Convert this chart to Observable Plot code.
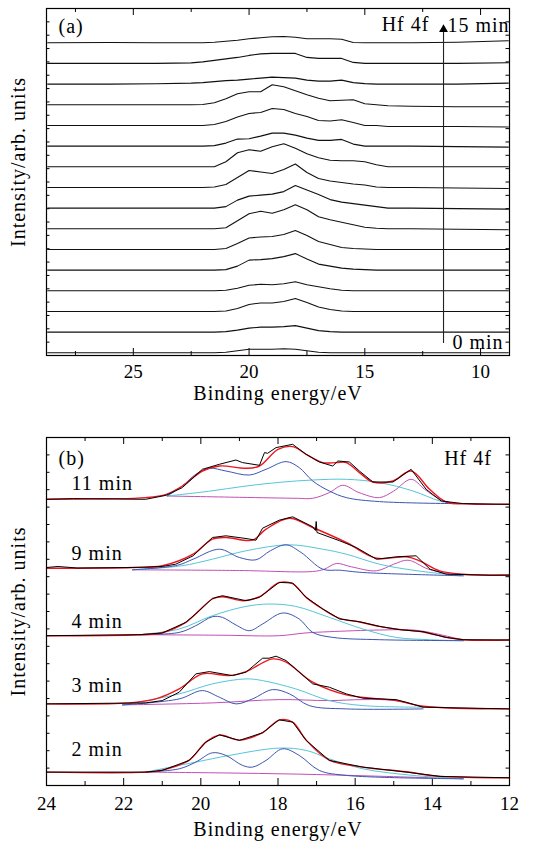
<!DOCTYPE html>
<html><head><meta charset="utf-8">
<script src="https://cdn.jsdelivr.net/npm/d3@7"></script>
<script src="https://cdn.jsdelivr.net/npm/@observablehq/plot@0.6"></script>
<style>
body{margin:0;background:#fff;}
#chart{width:533px;}
#chart svg{display:block;}
</style>
</head><body><div id="chart"></div>
<script>
// ---------- Panel (a): Hf 4f spectra, 0..15 min ----------
const energyA = [28.7, 26, 24, 22.5, 22, 21.5, 21, 20.5, 20, 19.5, 19, 18.5, 18, 17.5, 17, 16.5, 16, 15.5, 15, 14.5, 14, 13, 11, 8.8];
const minutesA = [0,1,2,3,4,5,6,7,8,9,10,11,12,13,14,15];
const spec00 = [0,0,0,0,0,0,0.5,2,3.5,3.5,3.5,4,3.5,2,0.5,0,0,0,0,0,0,0,0,0];
const spec01 = [0,0,0,0,0,0,0.5,2,4,5,5,5.5,6.5,4,1.5,0.5,0,0,0,0,0,0,0,0];
const spec02 = [0,0,0,0,0,0,0.5,3,7,8.5,8.5,10,13,9,4.5,2,0.5,0,0,0,0,0,0,0];
const spec03 = [0,0,0,0,0,0,0.5,2.5,5.5,6.5,6,7,9,6,4,2,0.5,0,0,0,0,0,0,0];
const spec04 = [0,0,0,0,0,0,0.5,4,10,10.5,11.5,13.5,16.5,11,6,4,2,1,0.5,0,0,0,0,0];
const spec05 = [0,0,0,0,0,0,1,6,11.5,12.5,13,15,19,14,8,5,2,1,0.5,0,0,0,0,0];
const spec06 = [0,0,0,0,0,0,1,8,15,17.5,15.5,19,24,19,12,9,6.5,4,1.5,0.5,0,0,-0.5,-1];
const spec07 = [0,0,0,0,0,0,1.5,8,12,13,14,16.5,22.5,18,13.5,8.5,6,4.5,3,1.5,0,0,-0.5,-1];
const spec08 = [0,0,0,0,0,0.5,3,10,17,15.5,14,18,23.5,15,9,6.5,5,3.5,2.5,0.5,0,0,-0.5,-1];
const spec09 = [0,0,0,0,0,0,5,14,17,15.5,20,23,18.5,13,9,6.5,6,6,5,2,0,0,0,0];
const spec10 = [0,0,0,0,0,0.5,3,7,7.3,10,13,13,11,8,5.7,5.7,6.7,2,0,0,0,0,-0.5,-1];
const spec11 = [0,0,0,0,0,1,4,8.5,12,13,17,16,12,9,5,4.5,5.7,3,0,0,-1,-1,-1,-1.5];
const spec12 = [0,0,0,0,0.3,2,6,11,13,13,20,18,14,10,6.5,4,4.5,5,1,0,-1,-1.5,-2,-2];
const spec13 = [0,0,0.3,1,1.5,2.5,3.5,4,5,6,7,6.5,6,4,3,3,4,1.5,0.5,0,0,0,0,1];
const spec14 = [0,0,0,0.5,1.5,3,4.5,6,8,9.5,10,10,10,6,5,5,5,1,0,0,0,0,0,0.7];
const spec15 = [0,0.3,0,0,0,0.5,1.5,2.5,4,5,6,6.3,5.5,4,4,4,3.5,0.3,0,0,0,0,0.5,2];
const spectraA = [spec00,spec01,spec02,spec03,spec04,spec05,spec06,spec07,spec08,spec09,spec10,spec11,spec12,spec13,spec14,spec15];
const majorTicksA = [25, 20, 15, 10];
const minorTicksA = [27.5, 22.5, 17.5, 12.5];
const arrowEnergy = 11.6;

// ---------- Panel (b): fitted spectra ----------
const minutesB = [2, 3, 4, 9, 11];
const b2Data = [[24,0],[21.43,0],[21.0,1.7],[20.3,11.7],[19.87,30],[19.52,37.3],[19.0,31.7],[18.4,39.3],[17.97,52.3],[17.62,50],[17.27,31.7],[16.67,11.7],[15.8,5],[14.68,0],[13.8,-4.3],[12,-5.7]];
const b2Fit  = [[24,0],[21.43,0],[21.0,2],[20.3,12],[19.87,30],[19.52,37],[19.0,32],[18.4,39.5],[17.97,52],[17.62,50],[17.27,32],[16.67,12],[15.8,5],[14.68,0.3],[13.8,-4.3],[12,-5.7]];
const b2Blue = [[21.43,0],[20.56,3.3],[20.13,10],[19.7,19.3],[19.35,16.7],[18.92,6.7],[18.66,5],[18.31,11.7],[17.88,23.3],[17.45,16.7],[16.93,1.7],[16.23,-3.3],[13.2,-6.7]];
const b2Cyan = [[21.43,0],[20.13,10],[19.26,16.7],[17.97,24],[17.27,21.7],[16.67,13.3],[15.8,3.3],[14.5,-3.3],[13.2,-6.7]];
const b2Mag  = [[21.43,0],[19.5,-0.8],[17.5,-2],[15.5,-4],[13.2,-6.7]];

const b3Data = [[24,0],[21.43,1],[21.0,3.3],[20.56,11.7],[20.13,30],[19.78,32.3],[19.18,28.3],[18.83,31.7],[18.4,45.7],[18.23,45.7],[18.05,47.7],[17.79,43.3],[17.1,20],[16.67,16.7],[16.23,10],[15.8,5.7],[14.94,4.3],[14.68,1.7],[14.24,-3.3],[12,-5]];
const b3Fit  = [[24,0],[21.86,1],[21.17,5],[20.56,15],[19.96,30],[19.26,28.3],[18.83,32.3],[18.14,45],[17.79,41.7],[17.1,21.7],[16.23,9],[14.94,3.3],[14.24,-2.3],[12,-5]];
const b3Blue = [[22.03,-1],[20.56,5],[19.96,13.3],[19.52,6.7],[19.09,0],[18.66,5],[18.14,14.3],[17.7,10],[17.19,-1.7],[16.23,-5],[14.24,-5]];
const b3Cyan = [[22.03,-1],[20.56,10],[19.7,20],[18.83,25],[18.4,23.3],[17.54,15],[16.67,3.3],[15.8,-1.7],[14.24,-3.3]];
const b3Mag  = [[22.03,-1],[19.7,1],[17.97,4.3],[16.67,3.3],[15.8,4.3],[14.94,3.3],[14.24,-3.3]];

const b4Data = [[24,0],[21.6,1],[21.0,2.7],[20.39,13.3],[20.04,25],[19.7,37.3],[19.44,40],[18.83,35],[18.48,38.3],[17.97,53.3],[17.62,52.7],[17.27,38.3],[16.84,26.7],[16.4,16.7],[15.89,14],[15.37,9.3],[14.85,6],[14.24,4],[13.64,-1.7],[13.2,-4],[12,-4.3]];
const b4Fit  = [[24,0],[21.6,1],[21.0,3],[20.39,13.3],[19.7,36.7],[19.44,39],[18.9,35],[18.48,39],[17.97,53],[17.62,52],[17.27,38.3],[16.84,26.7],[16.4,17.3],[15.89,13.7],[15.37,9.3],[14.85,6.3],[14.24,3.7],[13.64,-1.7],[13.2,-4],[12,-4.3]];
const b4Blue = [[21.6,1],[20.56,3.3],[20.13,10],[19.7,19],[19.44,18.3],[19.09,10.7],[18.74,5],[18.4,11.7],[17.88,22.7],[17.45,16.7],[17.1,3.3],[16.58,-1.7],[15.37,-4],[13.2,-5]];
const b4Cyan = [[21.6,1],[20.56,6.7],[19.7,20],[18.83,29.3],[18.23,31.7],[17.54,29.3],[16.67,18.3],[15.8,6.7],[14.94,-1.7],[14.07,-4],[13.2,-5]];
const b4Mag  = [[21.6,1],[19.5,0.5],[17.97,0],[17.3,2.7],[16.67,4],[15.37,5.7],[14.5,5.7],[14.07,3.3],[13.2,-4.3]];

const b9Data = [[24,0],[23.7,1],[23.2,-0.5],[21.77,0],[21.0,1],[20.65,3.3],[20.2,11.7],[19.7,30],[19.35,31.7],[18.83,29],[18.57,27.3],[18.4,39.3],[17.97,47.3],[17.62,50.7],[17.1,40.7],[17.03,37],[17.01,46],[16.99,35],[16.4,26.7],[15.97,20],[15.45,8.3],[14.93,10.7],[14.42,11.7],[14.24,5],[14.06,-1.7],[13.64,-6.7],[12.5,-7.7],[12,-7.5]];
const b9Fit  = [[24,-0.7],[21.77,0],[21.0,1.7],[20.2,13.3],[19.7,28.3],[19.35,30],[18.66,27.3],[18.31,38.3],[17.71,49.3],[17.1,40],[16.23,25],[15.45,9.3],[14.67,10.7],[14.33,6.7],[13.81,-3.3],[13.2,-6.7],[12,-7.7]];
const b9Blue = [[21.77,-2.3],[20.6,2.3],[20.2,8.3],[19.52,18.3],[19.0,10],[18.57,7.7],[18.2,16.7],[17.79,22.7],[17.4,15],[16.84,-1.7],[16.4,-2.7],[15.8,-5],[13.2,-8.3]];
const b9Cyan = [[21.77,-2.3],[20.5,1.7],[19.7,8.3],[18.83,16.7],[17.71,22.7],[16.84,18.3],[16.23,13.3],[15.37,3.3],[14.5,-2.7],[13.64,-6.7],[13.2,-8.3]];
const b9Mag  = [[21.77,-2.3],[19,-3],[17.1,-4],[16.8,-1.7],[16.49,4],[16.1,0.7],[15.45,-3.3],[15.0,3.3],[14.63,7.3],[14.1,-1.7],[13.3,-8.3]];

const b11Data = [[24,0],[23.3,0.7],[21.43,0],[20.9,4],[20.48,11.7],[19.96,30],[19.52,35],[19.09,39.3],[18.92,36.7],[18.48,34],[18.35,46.7],[18.27,46],[18.05,51.7],[17.62,55],[17.27,45],[16.93,37.3],[16.58,33.3],[16.45,38.3],[16.15,37.3],[15.89,28.3],[15.54,17.3],[15.02,17.3],[14.55,30],[14.16,10],[13.77,-1.7],[13.2,-4.3],[12,-5]];
const b11Fit  = [[24,0],[22.5,0.5],[21.43,1.7],[20.9,5],[20.48,13.3],[19.96,28.3],[19.52,33.3],[18.83,31],[18.48,33.3],[18.0,50],[17.62,52.7],[17.27,45],[16.84,36.7],[16.49,36.7],[16.23,36.7],[15.89,26.7],[15.54,17.3],[15.02,18.3],[14.55,28.3],[14.07,10],[13.64,-2.7],[13,-4.7],[12,-5]];
const b11Blue = [[20.87,3.3],[20.48,13.3],[20.13,25],[19.78,31],[19.35,28.3],[18.74,24.3],[18.31,30],[17.79,37.7],[17.45,31.7],[17.1,18.3],[16.67,8.3],[16.23,1.7],[15.37,-2.3],[13.46,-4.3]];
const b11Cyan = [[20.87,3.3],[19.8,8],[18.83,13.3],[17.95,17],[17.1,19.3],[16.23,20],[15.37,16.7],[14.5,8.3],[13.81,-1.7],[13.46,-4.3]];
const b11Mag  = [[20.87,3.3],[19,2],[17.5,1],[17.1,1],[16.67,6.7],[16.32,14],[15.9,6.7],[15.37,1.7],[15.0,8.3],[14.55,20],[14.2,10],[13.81,0],[13.46,-4.3]];

const majorTicksB = [24, 22, 20, 18, 16, 14, 12];
const minorTicksB = [23, 21, 19, 17, 15, 13];

// ---------- layout / style ----------
const W = 533, mL = 46, mR = 24, pw = W - mL - mR;
const serif = "Liberation Serif";
const style = {fontFamily: serif, fontSize: "19px", color: "#000", background: "#fff", overflow: "visible"};
const colBlue = "#3d55b0", colCyan = "#56c5d8", colMag = "#c24fb4", colRed = "#f0151d";
const txt = {fontSize: 20, fontFamily: serif, textAnchor: "middle", lineAnchor: "middle"};
const tickTxt = {fontSize: 19, fontFamily: serif};

// Panel (a)
const hA = 347, stepA = 20.67, baseA = 2.7;
const rowsA = minutesA.flatMap((m, i) => energyA.map((e, j) => ({E: e, v: baseA + i * stepA + spectraA[i][j], m})));
const yTicksA = d3.range(0, hA + 0.01, hA / 26);

const plotA = Plot.plot({
  width: W, height: 420, marginLeft: mL, marginRight: mR, marginTop: 8, marginBottom: 65,
  style,
  x: {domain: [28.75, 8.75]},
  y: {domain: [0, hA], axis: null},
  marks: [
    Plot.ruleX(majorTicksA, {insetTop: hA - 7, stroke: "#000"}),
    Plot.ruleX(minorTicksA, {insetTop: hA - 4, stroke: "#000"}),
    Plot.ruleX(majorTicksA, {insetBottom: hA - 7, stroke: "#000"}),
    Plot.ruleX(minorTicksA, {insetBottom: hA - 4, stroke: "#000"}),
    Plot.ruleY(yTicksA, {insetRight: pw - 3.5, stroke: "#000"}),
    Plot.ruleY(yTicksA, {insetLeft: pw - 3.5, stroke: "#000"}),
    Plot.line(rowsA, {x: "E", y: "v", z: "m", stroke: "#111", strokeWidth: 1.1}),
    Plot.ruleX([arrowEnergy], {y1: 12, y2: 324, stroke: "#222", strokeWidth: 1.1}),
    Plot.dot([arrowEnergy], {x: d => d, y: 326, symbol: "triangle", r: 3.3, fill: "#000", stroke: null}),
    Plot.frame({stroke: "#000", strokeWidth: 1.2}),
    Plot.axisX({ticks: majorTicksA, tickSize: 0, tickPadding: 9, label: null, ...tickTxt}),
    Plot.text(["Binding energy/eV"], {frameAnchor: "bottom", dy: 38, ...txt}),
    Plot.text(["Intensity/arb. units"], {frameAnchor: "left", dx: -28, dy: -20, rotate: -90, ...txt}),
    Plot.text(["(a)"], {frameAnchor: "top-left", dx: 12, dy: 18, ...txt, textAnchor: "start"}),
    Plot.text(["Hf 4f"], {frameAnchor: "top-right", dx: -104, dy: 16, ...txt}),
    Plot.text(["15 min"], {frameAnchor: "top-right", dx: -62, dy: 17, ...txt, textAnchor: "start"}),
    Plot.text(["0 min"], {frameAnchor: "bottom-right", dx: -57, dy: -13, ...txt, textAnchor: "start"})
  ]
});

// Panel (b)
const hB = 348, stepB = 68.2, baseB = 13.4;
const groupsB = [
  {m: 2,  data: b2Data,  fit: b2Fit,  blue: b2Blue,  cyan: b2Cyan,  mag: b2Mag,  lift: 23},
  {m: 3,  data: b3Data,  fit: b3Fit,  blue: b3Blue,  cyan: b3Cyan,  mag: b3Mag,  lift: 18.4},
  {m: 4,  data: b4Data,  fit: b4Fit,  blue: b4Blue,  cyan: b4Cyan,  mag: b4Mag,  lift: 14.2},
  {m: 9,  data: b9Data,  fit: b9Fit,  blue: b9Blue,  cyan: b9Cyan,  mag: b9Mag,  lift: 13.5},
  {m: 11, data: b11Data, fit: b11Fit, blue: b11Blue, cyan: b11Cyan, mag: b11Mag, lift: 15.8}
];
const rowsOf = key => groupsB.flatMap((g, i) => g[key].map(([E, h]) => ({E, v: baseB + i * stepB + h, m: g.m})));
const yTicksB = d3.range(0, hB + 0.01, hB / 20);
const labelE = 23.35;

const plotB = Plot.plot({
  width: W, height: 423, marginLeft: mL, marginRight: mR, marginTop: 17, marginBottom: 58,
  style,
  x: {domain: [24, 12]},
  y: {domain: [0, hB], axis: null},
  marks: [
    Plot.ruleX(majorTicksB, {insetTop: hB - 7, stroke: "#000"}),
    Plot.ruleX(minorTicksB, {insetTop: hB - 4, stroke: "#000"}),
    Plot.ruleX(majorTicksB, {insetBottom: hB - 7, stroke: "#000"}),
    Plot.ruleX(minorTicksB, {insetBottom: hB - 4, stroke: "#000"}),
    Plot.ruleY(yTicksB, {insetRight: pw - 3.5, stroke: "#000"}),
    Plot.ruleY(yTicksB, {insetLeft: pw - 3.5, stroke: "#000"}),
    Plot.line(rowsOf("mag"), {x: "E", y: "v", z: "m", stroke: colMag, strokeWidth: 1, curve: "catmull-rom"}),
    Plot.line(rowsOf("cyan"), {x: "E", y: "v", z: "m", stroke: colCyan, strokeWidth: 1, curve: "catmull-rom"}),
    Plot.line(rowsOf("blue"), {x: "E", y: "v", z: "m", stroke: colBlue, strokeWidth: 1, curve: "catmull-rom"}),
    Plot.line(rowsOf("fit"), {x: "E", y: "v", z: "m", stroke: colRed, strokeWidth: 1.4, curve: "catmull-rom"}),
    Plot.line(rowsOf("data"), {x: "E", y: "v", z: "m", stroke: "#000", strokeWidth: 1}),
    Plot.frame({stroke: "#000", strokeWidth: 1.2}),
    Plot.axisX({ticks: majorTicksB, tickSize: 0, tickPadding: 11, label: null, ...tickTxt}),
    Plot.text(groupsB, {x: () => labelE, y: (d, i) => baseB + i * stepB + d.lift, text: d => `${d.m} min`, ...txt, textAnchor: "start"}),
    Plot.text(["Binding energy/eV"], {frameAnchor: "bottom", dy: 44, ...txt}),
    Plot.text(["Intensity/arb. units"], {frameAnchor: "left", dx: -28, rotate: -90, ...txt}),
    Plot.text(["(b)"], {frameAnchor: "top-left", dx: 12, dy: 21, ...txt, textAnchor: "start"}),
    Plot.text(["Hf 4f"], {frameAnchor: "top-right", dx: -41.5, dy: 21, ...txt})
  ]
});

// slightly wider glyph spacing for the word labels (inline, so it survives serialisation)
for (const svg of [plotA, plotB]) {
  d3.select(svg).selectAll("text").filter(function() { return /[a-z]/i.test(this.textContent); })
    .attr("letter-spacing", "1px").style("letter-spacing", "1px");
}

const chart = document.getElementById("chart");
chart.append(plotA, plotB);
</script></body></html>
